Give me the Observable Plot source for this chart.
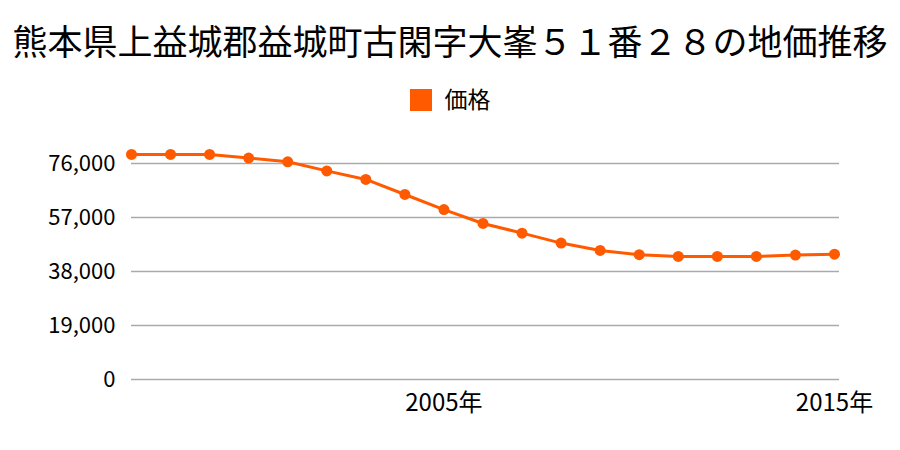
<!DOCTYPE html>
<html>
<head>
<meta charset="utf-8">
<script src="https://cdn.jsdelivr.net/npm/d3@7"></script>
<script src="https://cdn.jsdelivr.net/npm/@observablehq/plot@0.6"></script>
<style>
  html, body { margin: 0; padding: 0; background: #fff; }
  body { width: 900px; height: 450px; position: relative; overflow: hidden; font-family: "Noto Sans CJK JP", sans-serif; }
  #title { position: absolute; left: 0; top: 18px; width: 900px; text-align: center; font-size: 35px; line-height: 44px; color: #000; white-space: nowrap; }
  #legend { position: absolute; left: 0; top: 84px; width: 900px; text-align: center; font-size: 23px; line-height: 28px; color: #000; }
  #legend .sw { display: inline-block; width: 22px; height: 22px; background: #ff5a00; vertical-align: -3px; margin-right: 13px; }
  #chart { position: absolute; left: 0; top: 0; }
</style>
</head>
<body>
<div id="title">熊本県上益城郡益城町古閑字大峯５１番２８の地価推移</div>
<div id="legend"><span class="sw"></span>価格</div>
<div id="chart"></div>
<script>
const years = [1997,1998,1999,2000,2001,2002,2003,2004,2005,2006,2007,2008,2009,2010,2011,2012,2013,2014,2015];
const prices = [79200,79200,79200,77900,76600,73400,70400,65100,59800,54900,51500,48000,45400,43900,43300,43300,43300,43800,44100];
const yTicks = [0,19000,38000,57000,76000];
const xTicks = [2005,2015];
const seriesName = "価格";

const data = years.map((y, i) => ({year: y, price: prices[i], series: seriesName}));
const color = "#ff5a00";

const chart = Plot.plot({
  width: 900,
  height: 450,
  marginLeft: 131,
  marginRight: 61,
  marginTop: 163,
  marginBottom: 71,
  style: {fontFamily: "'Noto Sans CJK JP', sans-serif", fontSize: "22px", color: "#000", background: "transparent"},
  x: {domain: [1997, 2015.128]},
  y: {domain: [0, 76000]},
  marks: [
    Plot.ruleY(yTicks, {stroke: "#aaaaaa", strokeWidth: 1.3}),
    Plot.axisY({ticks: yTicks, tickSize: 0, tickPadding: 16, tickFormat: d3.format(","), fontSize: 22, label: null}),
    Plot.axisX({ticks: xTicks, tickSize: 0, tickPadding: 14, tickFormat: d => d + "年", fontSize: 24, label: null}),
    Plot.line(data, {x: "year", y: "price", stroke: color, strokeWidth: 3}),
    Plot.dot(data, {x: "year", y: "price", fill: color, r: 5.5})
  ]
});
document.getElementById("chart").appendChild(chart);
</script>
</body>
</html>
